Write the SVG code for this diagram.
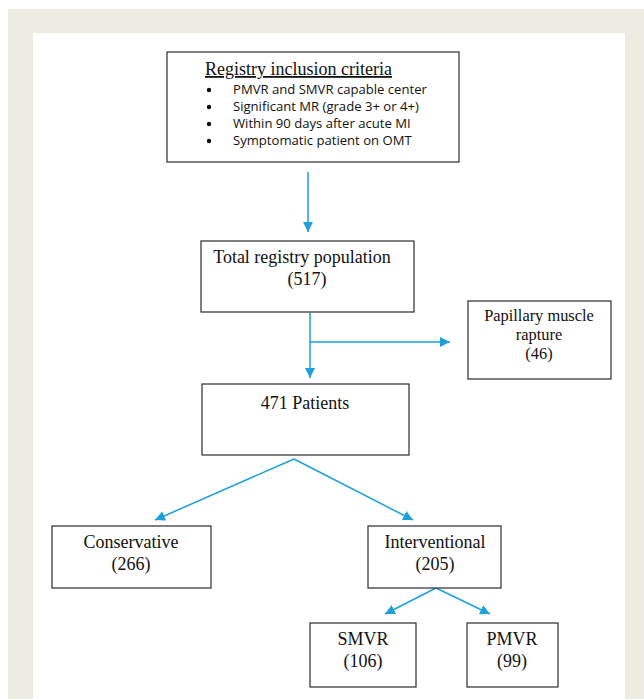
<svg xmlns="http://www.w3.org/2000/svg" width="644" height="699" viewBox="0 0 644 699">
<style>
.box{fill:#fff;stroke:#2b2b2b;stroke-width:1.2}
.t{font-family:"Liberation Serif","Times New Roman",serif;font-size:18px;fill:#111;text-anchor:middle}
.p{font-size:16.4px}
.s{font-family:"Open Sans","Liberation Sans",sans-serif;font-size:13.1px;fill:#111}
.c{stroke:#1d9fdb;stroke-width:1.5;fill:none}
</style>
<defs>
<marker id="ah" viewBox="0 0 10 10" refX="10" refY="5" markerWidth="10" markerHeight="10" markerUnits="userSpaceOnUse" orient="auto">
<path d="M0,0 L10,5 L0,10 z" fill="#1d9fdb"/>
</marker>
</defs>
<rect x="0" y="0" width="644" height="699" fill="#fff"/>
<rect x="8" y="9" width="636" height="690" fill="#ecece1"/>
<rect x="33" y="33" width="592" height="666" fill="#fff"/>
<g id="connectors">
<path class="c" d="M308,172 V232" marker-end="url(#ah)"/>
<path class="c" d="M310,313 V378" marker-end="url(#ah)"/>
<path class="c" d="M310,342 H450" marker-end="url(#ah)"/>
<path class="c" d="M294,459 L155,520" marker-end="url(#ah)"/>
<path class="c" d="M294,459 L413,520" marker-end="url(#ah)"/>
<path class="c" d="M436,588 L385,614" marker-end="url(#ah)"/>
<path class="c" d="M436,588 L490,614" marker-end="url(#ah)"/>
</g>
<g id="criteria">
<rect class="box" x="167" y="52" width="292" height="110"/>
<text class="t" x="205" y="75" style="text-anchor:start;text-decoration:underline">Registry inclusion criteria</text>
<g class="s">
<circle cx="209" cy="90" r="2.2" fill="#111"/>
<circle cx="209" cy="107" r="2.2" fill="#111"/>
<circle cx="209" cy="124" r="2.2" fill="#111"/>
<circle cx="209" cy="141" r="2.2" fill="#111"/>
<text x="233" y="94">PMVR and SMVR capable center</text>
<text x="233" y="111">Significant MR (grade 3+ or 4+)</text>
<text x="233" y="128">Within 90 days after acute MI</text>
<text x="233" y="145">Symptomatic patient on OMT</text>
</g>
</g>
<g id="total">
<rect class="box" x="201" y="241" width="213" height="71"/>
<text class="t" x="302" y="263">Total registry population</text>
<text class="t" x="307" y="285">(517)</text>
</g>
<g id="papillary">
<rect class="box" x="468" y="301" width="143" height="78"/>
<text class="t p" x="539" y="321">Papillary muscle</text>
<text class="t p" x="539" y="340">rapture</text>
<text class="t p" x="539" y="359">(46)</text>
</g>
<g id="patients">
<rect class="box" x="202" y="384" width="207" height="71"/>
<text class="t" x="305" y="409">471 Patients</text>
</g>
<g id="conservative">
<rect class="box" x="52" y="526" width="159" height="62"/>
<text class="t" x="131" y="548">Conservative</text>
<text class="t" x="131" y="570">(266)</text>
</g>
<g id="interventional">
<rect class="box" x="368" y="526" width="133" height="62"/>
<text class="t" x="435" y="548">Interventional</text>
<text class="t" x="435" y="570">(205)</text>
</g>
<g id="smvr">
<rect class="box" x="310" y="623" width="106" height="64"/>
<text class="t" x="363" y="645">SMVR</text>
<text class="t" x="363" y="667">(106)</text>
</g>
<g id="pmvr">
<rect class="box" x="467" y="623" width="91" height="64"/>
<text class="t" x="512" y="645">PMVR</text>
<text class="t" x="512" y="667">(99)</text>
</g>
</svg>
